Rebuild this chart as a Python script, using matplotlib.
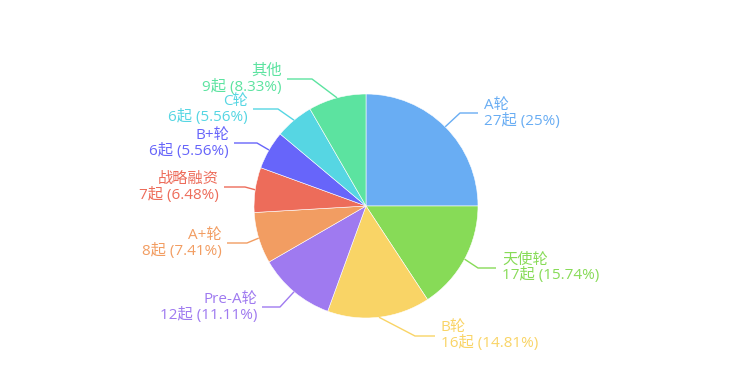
import matplotlib
matplotlib.use("Agg")
import matplotlib.pyplot as plt
import numpy as np

plt.rcParams['font.family'] = ['Open Sans', 'Noto Sans CJK SC', 'DejaVu Sans']

# ---- data ----
categories = ["A轮", "天使轮", "B轮", "Pre-A轮", "A+轮", "战略融资", "B+轮", "C轮", "其他"]
counts = [27, 17, 16, 12, 8, 7, 6, 6, 9]
percent_labels = ["25%", "15.74%", "14.81%", "11.11%", "7.41%", "6.48%", "5.56%", "5.56%", "8.33%"]
colors = ["#69adf3", "#87db57", "#f9d466", "#9f7af0", "#f29d62",
          "#ed6c5a", "#6765fa", "#56d6e3", "#5ce3a0"]

# ---- layout (pixel coords, y measured downward from top) ----
W, H = 732, 375
center = (366, 206)
radius = 112
# label leader-line elbow and end points (layout only)
elbows = [(460, 113), (478, 268), (415, 336), (280, 307), (247, 243),
          (245, 187), (257, 143), (278, 109), (312, 79)]
ends = [(478, 113), (496, 268), (435, 336), (262, 307), (227, 243),
        (224, 187), (234, 143), (253, 109), (287, 79)]

fig = plt.figure(figsize=(W / 100, H / 100), dpi=100)
ax = fig.add_axes([0, 0, 1, 1])

def fy(y):
    return H - y

cx, cy = center[0], fy(center[1])
wedges, _ = ax.pie(counts, colors=colors, startangle=90, counterclock=False,
                   center=(cx, cy), radius=radius, frame=True,
                   wedgeprops=dict(edgecolor='white', linewidth=0.4))
ax.set_xlim(0, W)
ax.set_ylim(0, H)
ax.set_aspect('equal')
ax.axis('off')

total = sum(counts)
cum = 0
for i, (cat, n, pct, col) in enumerate(zip(categories, counts, percent_labels, colors)):
    mid = (cum + n / 2) / total * 2 * np.pi
    cum += n
    ex = cx + radius * np.sin(mid)
    ey = cy + radius * np.cos(mid)
    bx, by = elbows[i][0], fy(elbows[i][1])
    tx, ty = ends[i][0], fy(ends[i][1])
    ax.plot([ex, bx, tx], [ey, by, ty], color=col, lw=1, solid_capstyle='butt')
    right = tx > bx
    ha = 'left' if right else 'right'
    gx = tx + 6 if right else tx - 5
    ax.text(gx, ty, f"{cat}\n{n}起 ({pct})", color=col, ha=ha, va='center',
            fontsize=11, linespacing=1.0, multialignment=ha)

fig.savefig("out.png", dpi=100)
